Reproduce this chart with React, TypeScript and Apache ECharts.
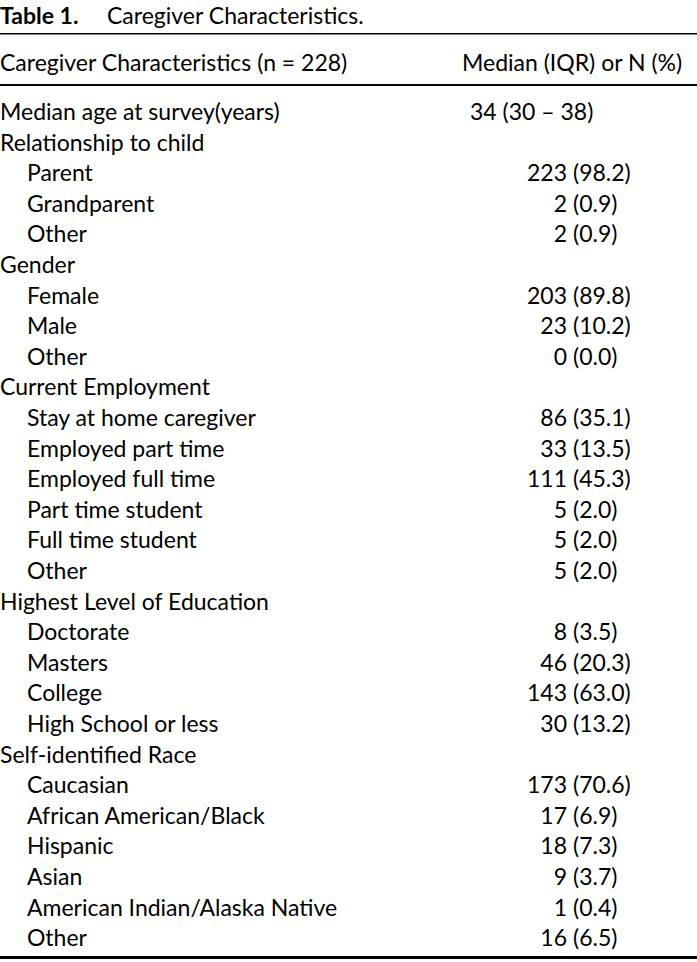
import React, { useEffect, useRef } from "react";
import * as echarts from "echarts";

const titleBold = "Table 1.";
const titleRest = "Caregiver Characteristics.";
const headerLeft = "Caregiver Characteristics (n = 228)";
const headerRight = "Median (IQR) or N (%)";

const rowLabels = [
  "Median age at survey(years)",
  "Relationship to child",
  "Parent",
  "Grandparent",
  "Other",
  "Gender",
  "Female",
  "Male",
  "Other",
  "Current Employment",
  "Stay at home caregiver",
  "Employed part time",
  "Employed full time",
  "Part time student",
  "Full time student",
  "Other",
  "Highest Level of Education",
  "Doctorate",
  "Masters",
  "College",
  "High School or less",
  "Self-identified Race",
  "Caucasian",
  "African American/Black",
  "Hispanic",
  "Asian",
  "American Indian/Alaska Native",
  "Other",
];
const rowLevels = [0, 0, 1, 1, 1, 0, 1, 1, 1, 0, 1, 1, 1, 1, 1, 1, 0, 1, 1, 1, 1, 0, 1, 1, 1, 1, 1, 1];
const rowCounts = [
  "34", "", "223", "2", "2", "", "203", "23", "0", "", "86", "33", "111", "5", "5", "5",
  "", "8", "46", "143", "30", "", "173", "17", "18", "9", "1", "16",
];
const rowPercents = [
  "(30 – 38)", "", "(98.2)", "(0.9)", "(0.9)", "", "(89.8)", "(10.2)", "(0.0)", "",
  "(35.1)", "(13.5)", "(45.3)", "(2.0)", "(2.0)", "(2.0)", "", "(3.5)", "(20.3)", "(63.0)",
  "(13.2)", "", "(70.6)", "(6.9)", "(7.3)", "(3.7)", "(0.4)", "(6.5)",
];

const FONT = "Lato, 'Noto Sans', sans-serif";
const FS = 23;

export default function App() {
  const ref = useRef<HTMLDivElement>(null);
  useEffect(() => {
    document.body.style.margin = "0";
    const chart = echarts.init(ref.current!, null, { renderer: "svg" });
    const W = 697;
    const rowY0 = 111;
    const rowStep = 30.6;
    const parenX = 573;
    const els: any[] = [];
    const txt = (text: string, x: number, y: number, align: string, bold = false, size = FS) => ({
      type: "text",
      x,
      y,
      style: {
        text,
        fill: "#000",
        font: `${bold ? "bold " : ""}${size}px ${FONT}`,
        textAlign: align,
        textVerticalAlign: "middle",
      },
    });
    els.push(txt(titleBold, 0, 15, "left", true));
    els.push(txt(titleRest, 107, 15, "left"));
    els.push({ type: "rect", shape: { x: 0, y: 33, width: W, height: 1.5 }, style: { fill: "#000" } });
    els.push(txt(headerLeft, 0, 62, "left"));
    els.push(txt(headerRight, 462, 62, "left"));
    els.push({ type: "rect", shape: { x: 0, y: 84, width: W, height: 2 }, style: { fill: "#000" } });
    rowLabels.forEach((lab, i) => {
      const y = rowY0 + i * rowStep;
      els.push(txt(lab, rowLevels[i] ? 27 : 0, y, "left"));
      if (i === 0) {
        els.push(txt(rowCounts[i] + " " + rowPercents[i], 470, y, "left"));
      } else if (rowCounts[i]) {
        els.push(txt(rowCounts[i], parenX - 6, y, "right"));
        els.push(txt(rowPercents[i], parenX, y, "left"));
      }
    });
    els.push({ type: "rect", shape: { x: 0, y: 956, width: W, height: 3 }, style: { fill: "#000" } });
    chart.setOption({ animation: false, graphic: { elements: els } });
    return () => chart.dispose();
  }, []);
  return <div ref={ref} style={{ width: 697, height: 962, background: "#fff" }} />;
}
